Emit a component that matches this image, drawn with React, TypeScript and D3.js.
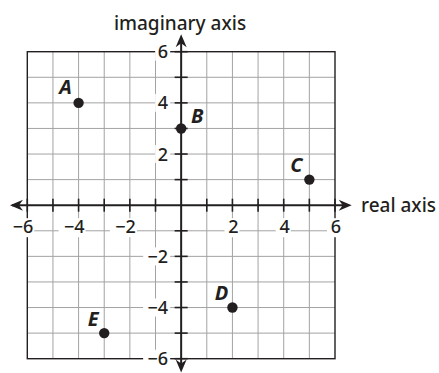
import React from "react";
import * as d3 from "d3";

const gridValues = [-6, -5, -4, -3, -2, -1, 0, 1, 2, 3, 4, 5, 6];
const xTickLabels = [-6, -4, -2, 2, 4, 6];
const yTickLabels = [6, 4, 2, -2, -4, -6];
const pointNames = ["A", "B", "C", "D", "E"];
const pointRe = [-4, 0, 5, 2, -3];
const pointIm = [4, 3, 1, -4, -5];
const labelDx = [-13, 16, -13, -11, -11];
const labelDy = [-16, -13, -15, -15, -14];

const W = 439;
const H = 373;
const ink = "#231f20";
const gridColor = "#a3a3a3";
const font = "'Noto Sans', 'Open Sans', sans-serif";

function fmt(v: number) {
  return v < 0 ? "\u2212" + Math.abs(v) : String(v);
}

export default function App() {
  const x = d3.scaleLinear().domain([-6, 6]).range([27.3, 335]);
  const y = d3.scaleLinear().domain([-6, 6]).range([358.7, 51.7]);
  const x0 = x(0);
  const y0 = y(0);
  const tick = 6.5;

  const arrow = (tx: number, ty: number, angle: number) => {
    const p = d3.path();
    p.moveTo(0, 0);
    p.lineTo(-13, -5.5);
    p.lineTo(-9, 0);
    p.lineTo(-13, 5.5);
    p.closePath();
    return (
      <path
        d={p.toString()}
        fill={ink}
        transform={`translate(${tx},${ty}) rotate(${angle})`}
      />
    );
  };

  return (
    <svg
      width={W}
      height={H}
      style={{ position: "absolute", left: 0, top: 0, background: "#fff" }}
      fontFamily={font}
    >
      <rect x={0} y={0} width={W} height={H} fill="#fff" />
      {/* grid */}
      {gridValues.map((v) =>
        Math.abs(v) === 6 || v === 0 ? null : (
          <g key={"g" + v}>
            <line x1={x(v)} x2={x(v)} y1={y(6)} y2={y(-6)} stroke={gridColor} strokeWidth={1} />
            <line x1={x(-6)} x2={x(6)} y1={y(v)} y2={y(v)} stroke={gridColor} strokeWidth={1} />
          </g>
        )
      )}
      {/* border */}
      <rect
        x={x(-6)}
        y={y(6)}
        width={x(6) - x(-6)}
        height={y(-6) - y(6)}
        fill="none"
        stroke={ink}
        strokeWidth={1.4}
      />
      {/* label backgrounds and labels */}
      {xTickLabels.map((v) => {
        const neg = v < 0;
        const right = x(v) + 6;
        const w = neg ? 25 : 13;
        return (
          <g key={"xl" + v}>
            <rect x={right - w - 1} y={y0 + 13} width={w + 2} height={19} fill="#fff" />
            <text
              x={right}
              y={y0 + 28}
              textAnchor="end"
              fontSize={18}
              fontWeight={500}
              fill={ink}
            >
              {fmt(v)}
            </text>
          </g>
        );
      })}
      {yTickLabels.map((v) => {
        const neg = v < 0;
        const right = x0 - 13;
        const w = neg ? 24 : 12;
        return (
          <g key={"yl" + v}>
            <rect x={right - w - 1} y={y(v) - 9} width={w + 3} height={18} fill="#fff" />
            <text
              x={right}
              y={y(v)}
              dy="0.36em"
              textAnchor="end"
              fontSize={18}
              fontWeight={500}
              fill={ink}
            >
              {fmt(v)}
            </text>
          </g>
        );
      })}
      {/* axes */}
      <line x1={12} x2={346} y1={y0} y2={y0} stroke={ink} strokeWidth={2} />
      <line x1={x0} x2={x0} y1={38} y2={368} stroke={ink} strokeWidth={2} />
      {arrow(351.7, y0, 0)}
      {arrow(10, y0, 180)}
      {arrow(x0, 34.3, -90)}
      {arrow(x0, 372.5, 90)}
      {/* ticks */}
      {gridValues.map((v) =>
        v === 0 ? null : (
          <g key={"t" + v}>
            <line x1={x(v)} x2={x(v)} y1={y0 - tick} y2={y0 + tick} stroke={ink} strokeWidth={1.6} />
            <line x1={x0 - tick} x2={x0 + tick} y1={y(v)} y2={y(v)} stroke={ink} strokeWidth={1.6} />
          </g>
        )
      )}
      {/* axis titles */}
      <text x={180} y={30} textAnchor="middle" fontSize={19} fontWeight={500} fill={ink}>
        imaginary axis
      </text>
      <text x={361} y={211.5} textAnchor="start" fontSize={19} fontWeight={500} fill={ink}>
        real axis
      </text>
      {/* points */}
      {pointNames.map((n, i) => (
        <g key={n}>
          <circle cx={x(pointRe[i])} cy={y(pointIm[i])} r={5.2} fill={ink} />
          <text
            x={x(pointRe[i]) + labelDx[i]}
            y={y(pointIm[i]) + labelDy[i]}
            dy="0.36em"
            textAnchor="middle"
            fontSize={20}
            fontWeight={700}
            fontStyle="italic"
            fill={ink}
          >
            {n}
          </text>
        </g>
      ))}
    </svg>
  );
}
